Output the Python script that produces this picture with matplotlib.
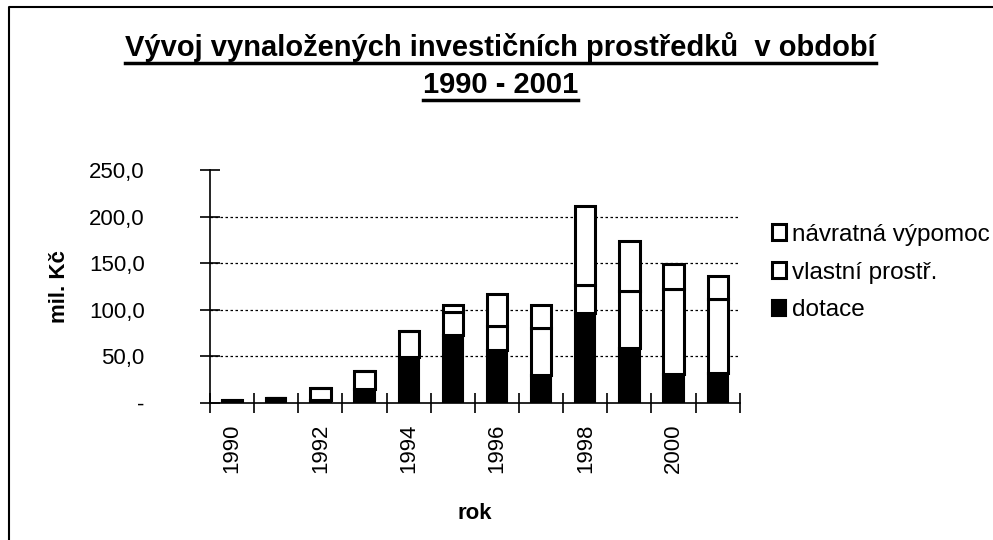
import numpy as np
import matplotlib.pyplot as plt
from matplotlib.lines import Line2D

plt.rcParams['font.family'] = ['Liberation Sans', 'DejaVu Sans']

years = [1990, 1991, 1992, 1993, 1994, 1995, 1996, 1997, 1998, 1999, 2000, 2001]
dotace = [2.5, 5.0, 3.0, 15.0, 49.0, 73.0, 57.0, 30.0, 97.0, 59.0, 31.0, 32.0]
vlastni = [0.5, 0.5, 13.0, 19.5, 28.0, 25.0, 26.0, 50.0, 30.0, 61.0, 91.0, 80.0]
navratna = [0.0, 0.0, 0.0, 0.0, 0.5, 7.0, 34.5, 25.0, 85.0, 54.0, 27.0, 24.0]
yticks = [0, 50, 100, 150, 200, 250]

fig = plt.figure(figsize=(9.93, 5.4), dpi=100)
ax = fig.add_axes([0.2115, 0.2537, 0.5335, 0.4313])

x = np.arange(len(years))
w = 0.46
ax.bar(x, dotace, w, color='black', edgecolor='black', lw=1.5, label='dotace', zorder=3)
ax.bar(x, vlastni, w, bottom=dotace, color='white', edgecolor='black', lw=2.2,
       label='vlastní prostř.', zorder=3)
bot2 = np.array(dotace) + np.array(vlastni)
ax.bar(x, navratna, w, bottom=bot2, color='white', edgecolor='black', lw=2.2,
       label='návratná výpomoc', zorder=3)

ax.set_xlim(-0.5, len(years) - 0.5)
ax.set_ylim(0, 250)
ax.set_yticks(yticks)
ax.set_yticklabels(['-' if v == 0 else f'{v:.1f}'.replace('.', ',') for v in yticks])
ax.set_xticks(x[::2])
ax.set_xticklabels([str(y) for y in years[::2]], rotation=90)
ax.set_xticks(np.arange(len(years) + 1) - 0.5, minor=True)
ax.tick_params(axis='x', which='major', length=0, pad=15, labelsize=16)
ax.tick_params(axis='x', which='minor', direction='inout', length=14, width=1.2)
ax.tick_params(axis='y', direction='inout', length=14, width=1.2, labelsize=16, pad=40)

for s in ['top', 'right']:
    ax.spines[s].set_visible(False)
for s in ['left', 'bottom']:
    ax.spines[s].set_linewidth(1.2)
for v in yticks[1:-1]:
    ax.axhline(v, color='black', ls=(0, (2, 2)), lw=0.9, zorder=1)

ax.set_ylabel('mil. Kč', fontsize=16, fontweight='bold', labelpad=14)
ax.set_xlabel('rok', fontsize=16, fontweight='bold', labelpad=21)

h, l = ax.get_legend_handles_labels()
ax.legend(h[::-1], l[::-1], loc='center left', bbox_to_anchor=(1.028, 0.56),
          frameon=False, fontsize=17.5, handlelength=0.6, handleheight=0.6,
          handletextpad=0.25, labelspacing=0.65, borderaxespad=0.3)

t1 = fig.text(0.504, 0.913, 'Vývoj vynaložených investičních prostředků  v období',
              ha='center', va='center', fontsize=21, fontweight='bold')
t2 = fig.text(0.504, 0.843, '1990 - 2001', ha='center', va='center',
              fontsize=21, fontweight='bold')

fig.canvas.draw()
r = fig.canvas.get_renderer()
for t in (t1, t2):
    bb = t.get_window_extent(r).transformed(fig.transFigure.inverted())
    fig.add_artist(Line2D([bb.x0, bb.x1], [bb.y0 - 0.002, bb.y0 - 0.002],
                          color='black', lw=2.5, transform=fig.transFigure))

# sheet border (only top and left edges visible)
fig.add_artist(Line2D([0.009, 0.009, 1.0], [0.0, 0.987, 0.987], color='black',
                      lw=1.5, transform=fig.transFigure))

fig.savefig('out.png', dpi=100)
